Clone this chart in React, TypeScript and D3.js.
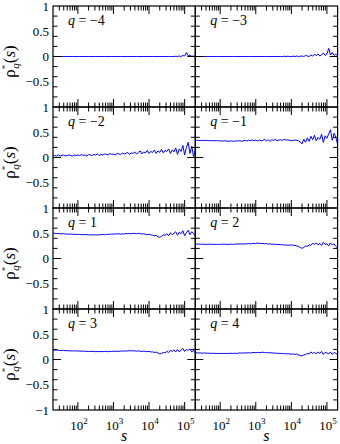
import React from 'react';
import * as d3 from 'd3';

// log10(s) sampling grid
const LOG_S = [
  1.30, 1.35, 1.40, 1.45, 1.50, 1.55, 1.60, 1.65, 1.70, 1.75, 1.80, 1.85, 1.90, 1.95,
  2.00, 2.05, 2.10, 2.15, 2.20, 2.25, 2.30, 2.35, 2.40, 2.45, 2.50, 2.55, 2.60, 2.65,
  2.70, 2.75, 2.80, 2.85, 2.90, 2.95, 3.00, 3.05, 3.10, 3.15, 3.20, 3.25, 3.30, 3.35,
  3.40, 3.45, 3.50, 3.55, 3.60, 3.65, 3.70, 3.75, 3.80, 3.85, 3.90, 3.95, 4.00, 4.05,
  4.10, 4.15, 4.20, 4.25, 4.30, 4.35, 4.40, 4.45, 4.50, 4.55, 4.60, 4.65, 4.70, 4.75,
  4.80, 4.85, 4.90, 4.95, 5.00, 5.05, 5.10, 5.15, 5.20, 5.25, 5.30,
];

const Q_LABELS = ['\u22124', '\u22123', '\u22122', '\u22121', '1', '2', '3', '4'];

const RHO_QM4 = [
  0, 0, 0, 0, 0, 0, 0, 0, 0, 0, 0, 0, 0, 0,
  0, 0, 0, 0, 0, 0, 0, 0, 0, 0, 0, 0, 0, 0,
  0, 0, 0, 0, 0, 0, 0, 0, 0, 0, 0, 0, 0, 0,
  0, 0, 0, 0, 0, 0, 0, 0, 0, 0, 0, 0, 0, 0,
  0, 0, 0, 0, 0, 0, 0, 0, 0, 0, 0, 0, 0, 0.005,
  0, 0.01, 0, 0.02, 0.01, 0.08, 0.01, 0.03, 0, 0.01, 0.005,
];

const RHO_QM3 = [
  0, 0, 0, 0, 0, 0, 0, 0, 0, 0, 0, 0, 0, 0,
  0, 0, 0, 0, 0, 0, 0, 0, 0, 0, 0, 0, 0, 0,
  0, 0, 0, 0, 0, 0, 0, 0, 0, 0, 0, 0, 0, 0,
  0, 0, 0, 0, 0, 0, 0, 0, 0.005, 0, 0.005, 0, 0, 0.005,
  0, 0.01, 0, 0.005, 0.01, 0, 0.02, 0.01, 0, 0.03, 0.01, 0.04, 0.02, 0.05,
  0.01, 0.03, 0.07, 0.02, 0.05, 0.16, 0.03, 0.08, 0.02, 0.05, 0.01,
];

const RHO_QM2 = [
  0.03, 0.04, 0.03, 0.05, 0.03, 0.04, 0.05, 0.03, 0.04, 0.05, 0.04, 0.03, 0.05, 0.04,
  0.05, 0.04, 0.06, 0.04, 0.05, 0.03, 0.06, 0.05, 0.04, 0.06, 0.05, 0.07, 0.04, 0.06,
  0.05, 0.07, 0.06, 0.05, 0.08, 0.06, 0.07, 0.05, 0.08, 0.07, 0.06, 0.09, 0.07, 0.08,
  0.10, 0.06, 0.09, 0.08, 0.11, 0.07, 0.10, 0.13, 0.07, 0.11, 0.09, 0.14, 0.08, 0.12,
  0.10, 0.15, 0.08, 0.13, 0.10, 0.16, 0.09, 0.14, 0.12, 0.17, 0.08, 0.15, 0.11, 0.19,
  0.06, 0.17, 0.12, 0.24, 0.05, 0.20, 0.30, 0.08, 0.22, 0.02, 0.15,
];

const RHO_QM1 = [
  0.34, 0.34, 0.34, 0.335, 0.34, 0.335, 0.34, 0.335, 0.335, 0.33, 0.335, 0.33, 0.335, 0.33,
  0.33, 0.325, 0.33, 0.33, 0.325, 0.32, 0.33, 0.325, 0.32, 0.33, 0.325, 0.335, 0.32, 0.33,
  0.34, 0.325, 0.345, 0.33, 0.35, 0.33, 0.345, 0.325, 0.35, 0.33, 0.34, 0.36, 0.33, 0.35,
  0.32, 0.35, 0.34, 0.36, 0.33, 0.345, 0.35, 0.34, 0.36, 0.345, 0.35, 0.34, 0.33, 0.34,
  0.345, 0.34, 0.33, 0.31, 0.27, 0.36, 0.30, 0.39, 0.32, 0.42, 0.35, 0.44, 0.33, 0.40,
  0.36, 0.46, 0.30, 0.43, 0.38, 0.47, 0.55, 0.34, 0.48, 0.40, 0.26,
];

const RHO_Q1 = [
  0.50, 0.50, 0.495, 0.495, 0.49, 0.49, 0.49, 0.485, 0.485, 0.48, 0.485, 0.48, 0.48, 0.475,
  0.48, 0.475, 0.475, 0.47, 0.475, 0.47, 0.47, 0.465, 0.47, 0.465, 0.47, 0.465, 0.47, 0.47,
  0.475, 0.47, 0.48, 0.475, 0.48, 0.485, 0.48, 0.49, 0.485, 0.49, 0.48, 0.49, 0.485, 0.495,
  0.49, 0.495, 0.49, 0.50, 0.495, 0.49, 0.50, 0.49, 0.485, 0.49, 0.48, 0.47, 0.48, 0.47,
  0.46, 0.45, 0.46, 0.43, 0.42, 0.44, 0.47, 0.46, 0.49, 0.45, 0.51, 0.47, 0.50, 0.53,
  0.46, 0.52, 0.49, 0.55, 0.45, 0.51, 0.56, 0.47, 0.53, 0.50, 0.44,
];

const RHO_Q2 = [
  0.285, 0.285, 0.285, 0.28, 0.285, 0.28, 0.28, 0.28, 0.285, 0.28, 0.28, 0.28, 0.28, 0.28,
  0.28, 0.28, 0.285, 0.28, 0.28, 0.28, 0.285, 0.28, 0.285, 0.285, 0.29, 0.285, 0.29, 0.285,
  0.29, 0.29, 0.295, 0.29, 0.295, 0.30, 0.295, 0.305, 0.30, 0.295, 0.30, 0.29, 0.295, 0.285,
  0.29, 0.28, 0.285, 0.28, 0.275, 0.28, 0.27, 0.275, 0.265, 0.27, 0.26, 0.265, 0.27, 0.26,
  0.26, 0.25, 0.24, 0.22, 0.20, 0.22, 0.25, 0.24, 0.27, 0.26, 0.30, 0.28, 0.31, 0.27,
  0.30, 0.26, 0.32, 0.28, 0.29, 0.25, 0.31, 0.27, 0.29, 0.24, 0.21,
];

const RHO_Q3 = [
  0.185, 0.185, 0.185, 0.18, 0.18, 0.18, 0.18, 0.175, 0.175, 0.175, 0.17, 0.17, 0.17, 0.17,
  0.17, 0.165, 0.165, 0.165, 0.165, 0.16, 0.16, 0.16, 0.16, 0.16, 0.155, 0.16, 0.155, 0.16,
  0.155, 0.16, 0.16, 0.155, 0.16, 0.16, 0.165, 0.16, 0.165, 0.16, 0.165, 0.17, 0.165, 0.17,
  0.17, 0.175, 0.17, 0.175, 0.17, 0.165, 0.17, 0.165, 0.16, 0.165, 0.16, 0.155, 0.16, 0.15,
  0.15, 0.14, 0.145, 0.13, 0.11, 0.12, 0.14, 0.13, 0.16, 0.14, 0.18, 0.16, 0.19, 0.15,
  0.20, 0.15, 0.19, 0.22, 0.16, 0.20, 0.18, 0.21, 0.15, 0.18, 0.13,
];

const RHO_Q4 = [
  0.13, 0.13, 0.13, 0.13, 0.125, 0.13, 0.125, 0.125, 0.125, 0.12, 0.125, 0.12, 0.12, 0.12,
  0.12, 0.12, 0.12, 0.12, 0.12, 0.12, 0.125, 0.12, 0.125, 0.12, 0.125, 0.13, 0.125, 0.13,
  0.13, 0.13, 0.135, 0.13, 0.135, 0.14, 0.135, 0.14, 0.135, 0.14, 0.145, 0.135, 0.14, 0.13,
  0.135, 0.13, 0.13, 0.125, 0.125, 0.12, 0.12, 0.115, 0.12, 0.11, 0.115, 0.11, 0.105, 0.11,
  0.10, 0.11, 0.09, 0.08, 0.07, 0.09, 0.10, 0.12, 0.11, 0.15, 0.12, 0.14, 0.11, 0.15,
  0.12, 0.16, 0.10, 0.14, 0.13, 0.11, 0.15, 0.10, 0.14, 0.12, 0.09,
];

const SERIES = [RHO_QM4, RHO_QM3, RHO_QM2, RHO_QM1, RHO_Q1, RHO_Q2, RHO_Q3, RHO_Q4];

const Y_LABEL_VALUES = [1, 0.5, 0, -0.5, -1];
const X_LABEL_EXPONENTS = [2, 3, 4, 5];

const FONT = '"Liberation Serif", "Times New Roman", Times, serif';

export default function App() {
  const W = 340;
  const H = 444;
  const left = 53;
  const pw = 142.3;
  const top = 6;
  const ph = 101;
  const majLen = 8;
  const minLen = 4.5;

  const fmt = (v: number) => (v < 0 ? '\u2212' : '') + String(Math.abs(v));

  const panels = SERIES.map((vals, idx) => {
    const r = Math.floor(idx / 2);
    const c = idx % 2;
    const x0 = left + c * pw;
    const y0 = top + r * ph;
    const xs = d3.scaleLog().domain([Math.pow(10, 1.3), Math.pow(10, 5.3)]).range([x0, x0 + pw]);
    const ys = d3.scaleLinear().domain([-1, 1]).range([y0 + ph, y0]);
    const line = d3
      .line<number>()
      .x((_, i) => xs(Math.pow(10, LOG_S[i])))
      .y((v) => ys(v));
    const xt = xs.ticks().filter((t) => xs(t) > x0 + 0.5 && xs(t) < x0 + pw - 0.5);
    const yt = ys.ticks(8).filter((t) => t > -1 && t < 1);
    const isMajX = (t: number) => Math.abs(Math.log10(t) - Math.round(Math.log10(t))) < 1e-6;
    const isMajY = (t: number) => Math.abs(t * 2 - Math.round(t * 2)) < 1e-6;
    const clipId = `clip${idx}`;
    return (
      <g key={idx}>
        <defs>
          <clipPath id={clipId}>
            <rect x={x0} y={y0} width={pw} height={ph} />
          </clipPath>
        </defs>
        <path d={line(vals) || ''} fill="none" stroke="#0000ff" strokeWidth={1} clipPath={`url(#${clipId})`} />
        {xt.map((t) => {
          const L = isMajX(t) ? majLen : minLen;
          const x = xs(t);
          return (
            <g key={`x${t}`}>
              <line x1={x} x2={x} y1={y0} y2={y0 + L} stroke="#000" strokeWidth={1} />
              <line x1={x} x2={x} y1={y0 + ph} y2={y0 + ph - L} stroke="#000" strokeWidth={1} />
            </g>
          );
        })}
        {yt.map((t) => {
          const L = isMajY(t) ? majLen : minLen;
          const y = ys(t);
          return (
            <g key={`y${t}`}>
              <line x1={x0} x2={x0 + L} y1={y} y2={y} stroke="#000" strokeWidth={1} />
              <line x1={x0 + pw} x2={x0 + pw - L} y1={y} y2={y} stroke="#000" strokeWidth={1} />
            </g>
          );
        })}
        <rect x={x0} y={y0} width={pw} height={ph} fill="none" stroke="#000" strokeWidth={1.2} />
        <text x={x0 + 15} y={y0 + 19} fontSize={14} fill="#000">
          <tspan fontStyle="italic">q</tspan>
          <tspan> = {Q_LABELS[idx]}</tspan>
        </text>
        {c === 0 &&
          Y_LABEL_VALUES.filter((v) => v > -1 || r === 3).map((v) => (
            <text key={`yl${v}`} x={x0 - 4} y={ys(v)} dy="0.35em" textAnchor="end" fontSize={13} fill="#000">
              {fmt(v)}
            </text>
          ))}
        {c === 0 && (
          <text
            transform={`translate(15,${y0 + ph / 2 + 5}) rotate(-90)`}
            textAnchor="middle"
            fontSize={17}
            fill="#000"
          >
            <tspan>ρ</tspan>
            <tspan fontSize={9} dy={-7}>*</tspan>
            <tspan fontSize={11} fontStyle="italic" dx={-4} dy={11}>q</tspan>
            <tspan dy={-4}>(</tspan>
            <tspan fontStyle="italic">s</tspan>
            <tspan>)</tspan>
          </text>
        )}
        {r === 3 &&
          X_LABEL_EXPONENTS.map((e) => (
            <text key={`xl${e}`} x={xs(Math.pow(10, e)) + 1} y={430} textAnchor="middle" fontSize={13} fill="#000">
              <tspan>10</tspan>
              <tspan fontSize={9} dy={-6}>{e}</tspan>
            </text>
          ))}
        {r === 3 && (
          <text x={x0 + pw / 2} y={441} textAnchor="middle" fontSize={16} fontStyle="italic" fill="#000">
            s
          </text>
        )}
      </g>
    );
  });

  return (
    <svg
      width={W}
      height={H}
      viewBox={`0 0 ${W} ${H}`}
      style={{ position: 'absolute', left: 0, top: 0, background: '#fff', fontFamily: FONT }}
    >
      <rect x={0} y={0} width={W} height={H} fill="#fff" />
      {panels}
    </svg>
  );
}
